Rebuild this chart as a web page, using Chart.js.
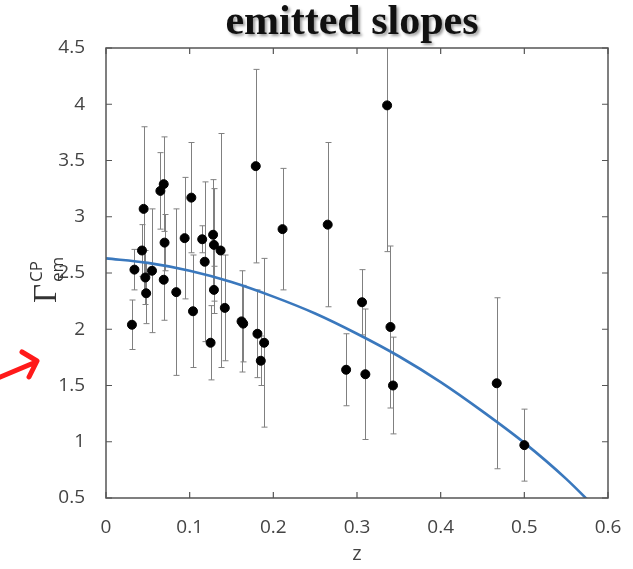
<!DOCTYPE html>
<html>
<head>
<meta charset="utf-8">
<script src="https://cdn.jsdelivr.net/npm/chart.js@4/dist/chart.umd.min.js"></script>
<style>
  html, body { margin: 0; padding: 0; background: #fff; }
  canvas { display: block; }
</style>
</head>
<body>
<canvas id="slopes" width="633" height="569"></canvas>
<script>
// measured points: redshift, emitted slope, symmetric error
const zVals = [0.031, 0.034, 0.045, 0.043, 0.047, 0.048, 0.055, 0.065, 0.069, 0.069, 0.070,
    0.084, 0.094, 0.102, 0.104, 0.115, 0.118, 0.125, 0.128, 0.129, 0.129, 0.137, 0.142,
    0.162, 0.164, 0.179, 0.181, 0.185, 0.189, 0.211, 0.265, 0.287, 0.306, 0.310, 0.336,
    0.340, 0.343, 0.467, 0.500];
const gammaVals = [2.04, 2.53, 3.07, 2.70, 2.46, 2.32, 2.52, 3.23, 3.29, 2.44, 2.77,
    2.33, 2.81, 3.17, 2.16, 2.80, 2.60, 1.88, 2.84, 2.75, 2.35, 2.70, 2.19,
    2.07, 2.05, 3.45, 1.96, 1.72, 1.88, 2.89, 2.93, 1.64, 2.24, 1.60, 3.99,
    2.02, 1.50, 1.52, 0.97];
const gammaErr = [0.22, 0.18, 0.73, 0.23, 0.24, 0.27, 0.55, 0.34, 0.42, 0.36, 0.25,
    0.74, 0.54, 0.49, 0.50, 0.12, 0.71, 0.33, 0.49, 0.50, 0.21, 1.04, 0.47,
    0.45, 0.34, 0.86, 0.39, 0.22, 0.75, 0.54, 0.73, 0.32, 0.29, 0.58, 1.30,
    0.72, 0.43, 0.76, 0.32];

// fitted curve (runs out of the box below 0.5)
const fitZ = [0, 0.05, 0.1, 0.15, 0.2, 0.25, 0.3, 0.35, 0.4, 0.45, 0.5, 0.55, 0.6];
const fitGamma = [2.63, 2.59, 2.52, 2.42, 2.29, 2.14, 1.96, 1.76, 1.53, 1.27, 0.99, 0.67, 0.3];

const TICK_FONT = { family: '"Open Sans", sans-serif', size: 19 };
const AXIS_COLOR = '#555';

const errorBars = {
    id: 'errorBars',
    beforeDatasetsDraw(chart) {
        const { ctx, chartArea: a, scales: { x, y } } = chart;
        ctx.save();
        ctx.beginPath();
        ctx.rect(a.left, a.top, a.right - a.left, a.bottom - a.top);
        ctx.clip();
        ctx.strokeStyle = '#808080';
        ctx.lineWidth = 1;
        zVals.forEach(function (z, i) {
            const px = Math.round(x.getPixelForValue(z)) + 0.5;
            const hi = y.getPixelForValue(gammaVals[i] + gammaErr[i]);
            const lo = y.getPixelForValue(gammaVals[i] - gammaErr[i]);
            ctx.beginPath();
            ctx.moveTo(px, hi);
            ctx.lineTo(px, lo);
            ctx.moveTo(px - 3, hi);
            ctx.lineTo(px + 3, hi);
            ctx.moveTo(px - 3, lo);
            ctx.lineTo(px + 3, lo);
            ctx.stroke();
        });
        ctx.restore();
    },
};

// MATLAB-style box with inward ticks, title, y label and the red arrow
const decorations = {
    id: 'decorations',
    afterDraw(chart) {
        const { ctx, chartArea: a, scales: { x, y } } = chart;
        ctx.save();
        ctx.strokeStyle = AXIS_COLOR;
        ctx.lineWidth = 1.5;
        ctx.strokeRect(a.left, a.top, a.right - a.left, a.bottom - a.top);
        ctx.lineWidth = 1.2;
        ctx.beginPath();
        x.ticks.forEach(function (t) {
            const px = x.getPixelForValue(t.value);
            ctx.moveTo(px, a.bottom); ctx.lineTo(px, a.bottom - 6);
            ctx.moveTo(px, a.top); ctx.lineTo(px, a.top + 6);
        });
        y.ticks.forEach(function (t) {
            const py = y.getPixelForValue(t.value);
            ctx.moveTo(a.left, py); ctx.lineTo(a.left + 6, py);
            ctx.moveTo(a.right, py); ctx.lineTo(a.right - 6, py);
        });
        ctx.stroke();

        // title with soft shadow
        ctx.font = 'bold 42px "Liberation Serif", serif';
        ctx.textAlign = 'center';
        ctx.textBaseline = 'alphabetic';
        ctx.shadowColor = 'rgba(0,0,0,0.4)';
        ctx.shadowOffsetX = 2;
        ctx.shadowOffsetY = 2;
        ctx.shadowBlur = 3;
        ctx.fillStyle = '#111';
        ctx.fillText('emitted slopes', 352, 34);
        ctx.restore();

        // y axis label: Gamma with sub/superscript, rotated
        ctx.save();
        ctx.translate(56, 303);
        ctx.rotate(-Math.PI / 2);
        ctx.fillStyle = '#333';
        ctx.textAlign = 'left';
        ctx.textBaseline = 'alphabetic';
        ctx.font = '33px "Liberation Serif", serif';
        ctx.fillText('Γ', 0, 0);
        const gw = ctx.measureText('Γ').width + 2;
        ctx.font = '17px "Open Sans", sans-serif';
        ctx.fillText('CP', gw, -14);
        ctx.fillText('em', gw, 7);
        ctx.restore();

        // red annotation arrow
        ctx.save();
        ctx.strokeStyle = '#ff1a1a';
        ctx.lineWidth = 5;
        ctx.lineCap = 'round';
        ctx.lineJoin = 'round';
        ctx.beginPath();
        ctx.moveTo(-2, 378);
        ctx.lineTo(36, 362);
        ctx.moveTo(22, 352);
        ctx.lineTo(37, 361);
        ctx.lineTo(29, 377);
        ctx.stroke();
        ctx.restore();
    },
};

new Chart(document.getElementById('slopes'), {
    type: 'scatter',
    data: {
        datasets: [
            {
                data: zVals.map(function (z, i) { return { x: z, y: gammaVals[i] }; }),
                backgroundColor: '#000',
                borderColor: '#000',
                pointRadius: 4.5,
                pointHoverRadius: 4.5,
            },
            {
                type: 'line',
                data: fitZ.map(function (z, i) { return { x: z, y: fitGamma[i] }; }),
                borderColor: '#3a78bd',
                borderWidth: 2.6,
                pointRadius: 0,
                cubicInterpolationMode: 'monotone',
                fill: false,
            },
        ],
    },
    options: {
        responsive: false,
        animation: false,
        devicePixelRatio: 1,
        layout: { padding: { left: 0, top: 48, right: 25, bottom: 0 } },
        plugins: {
            legend: { display: false },
            tooltip: { enabled: false },
        },
        scales: {
            x: {
                type: 'linear',
                min: 0,
                max: 0.6,
                grid: { display: false },
                border: { display: false },
                ticks: {
                    stepSize: 0.1,
                    font: TICK_FONT,
                    color: '#444',
                    padding: 10,
                    maxRotation: 0,
                    callback: function (v) { return String(Math.round(v * 10) / 10); },
                },
                title: {
                    display: true,
                    text: 'z',
                    font: { family: '"Open Sans", sans-serif', size: 20 },
                    color: '#444',
                    padding: { top: 0, bottom: 3 },
                },
                afterFit: function (s) { s.height = 71; },
            },
            y: {
                min: 0.5,
                max: 4.5,
                grid: { display: false },
                border: { display: false },
                ticks: {
                    stepSize: 0.5,
                    font: TICK_FONT,
                    color: '#444',
                    padding: 13,
                    callback: function (v) { return String(Math.round(v * 10) / 10); },
                },
                afterFit: function (s) { s.width = 106; },
            },
        },
    },
    plugins: [errorBars, decorations],
});
</script>
</body>
</html>
